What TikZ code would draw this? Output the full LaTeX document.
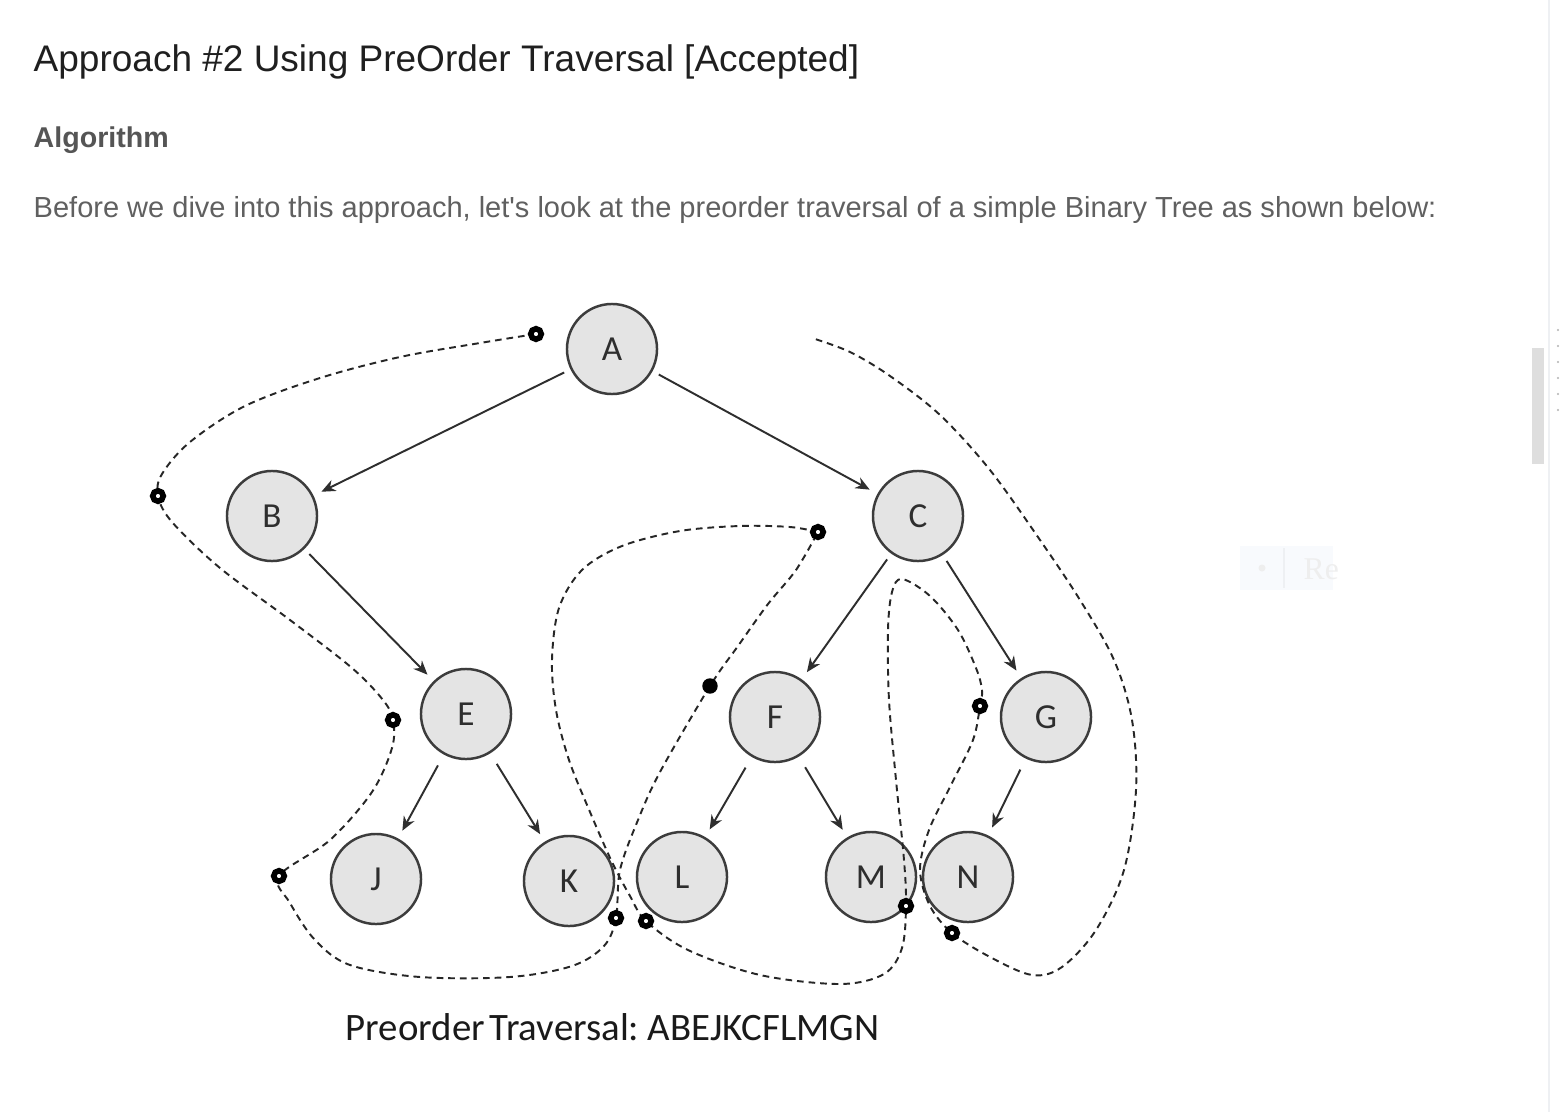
\documentclass[tikz,border=0pt]{standalone}
\usepackage{fontspec}
\setmainfont{Liberation Sans}[Ligatures=TeXOff]
\newfontfamily\calfont{Carlito}
\newfontfamily\faintserif{Liberation Serif}
\usetikzlibrary{arrows.meta}
\definecolor{nodefill}{HTML}{E4E4E4}
\definecolor{nodeline}{HTML}{3C3C3C}
\definecolor{edgecol}{HTML}{2E2E2E}
\definecolor{headcol}{HTML}{1F1F1F}
\definecolor{subcol}{HTML}{555555}
\definecolor{paracol}{HTML}{606060}
\definecolor{capcol}{HTML}{1A1A1A}
\definecolor{barcol}{HTML}{DEDEDE}
\definecolor{faintbox}{HTML}{F8FAFD}
\definecolor{faintline}{HTML}{EEF0F3}
\definecolor{fainttext}{HTML}{EEEEEE}
\begin{document}
\begin{tikzpicture}[x=0.01cm,y=-0.01cm,
  treenode/.style={circle, draw=nodeline, fill=nodefill, line width=0.7pt,
    minimum size=0.9cm, inner sep=0pt, text=edgecol,
    font=\calfont\fontsize{10}{12}\selectfont},
  treeedge/.style={-{Stealth[length=4pt,width=3.4pt]}, line width=0.55pt,
    draw=edgecol, shorten <=2pt, shorten >=2.5pt},
  walk/.style={draw=black!85, line width=0.55pt, dash pattern=on 1.9pt off 1.4pt},
  ring/.style={circle, draw=black, fill=white, line width=1.6pt,
    minimum size=3pt, inner sep=0pt},
  dot/.style={circle, fill=black, minimum size=4.4pt, inner sep=0pt},
  textline/.style={anchor=base west, inner sep=0pt}
]
\useasboundingbox[fill=white] (0,0) rectangle (1560,1112);

% header texts
\node[textline, text=headcol] (title) at (33,71)
  {\resizebox{8.25cm}{!}{Approach \#2 Using PreOrder Traversal [Accepted]}};
\node[textline, text=subcol] (algo) at (33,147)
  {\resizebox{1.35cm}{!}{\bfseries Algorithm}};
\node[textline, text=paracol] (para) at (33,217)
  {\resizebox{14.02cm}{!}{Before we dive into this approach, let's look at the preorder traversal of a simple Binary Tree as shown below:}};

% scrollbar and faint widget
\draw[draw=faintline, line width=0.5pt] (1549,0) -- (1549,1112);
\fill[barcol] (1532,348) rectangle (1544,464);
\foreach \yy in {330,346,362,378,394,410}
  \fill[gray!60] (1558,\yy) circle (1.2);
\fill[faintbox] (1240,546) rectangle (1333,590);
\draw[faintline, line width=0.4pt] (1284,548) -- (1284,588);
\fill[fainttext] (1262,568) circle (3.5);
\node[anchor=west, inner sep=0pt, text=fainttext, font=\faintserif\fontsize{9}{10}\selectfont] (re) at (1303,569) {Re};

% tree nodes
\node[treenode] (A) at (612,349) {A};
\node[treenode] (B) at (272,516) {B};
\node[treenode] (C) at (918,516) {C};
\node[treenode] (E) at (466,714) {E};
\node[treenode] (F) at (775,717) {F};
\node[treenode] (G) at (1046,717) {G};
\node[treenode] (J) at (376,879) {J};
\node[treenode] (K) at (569,881) {K};
\node[treenode] (L) at (682,877) {L};
\node[treenode] (M) at (871,877) {M};
\node[treenode] (N) at (968,877) {N};

% tree edges
\draw[treeedge] (A) -- (B);
\draw[treeedge] (A) -- (C);
\draw[treeedge] (B) -- (E);
\draw[treeedge] (C) -- (F);
\draw[treeedge] (C) -- (G);
\draw[treeedge, shorten <=3.5pt] (E) -- (J);
\draw[treeedge, shorten <=3.5pt] (E) -- (K);
\draw[treeedge, shorten <=3.5pt] (F) -- (L);
\draw[treeedge, shorten <=3.5pt] (F) -- (M);
\draw[treeedge, shorten <=3.5pt] (G) -- (N);

% traversal path markers
\coordinate (m1) at (536,334);
\coordinate (m2) at (158,496);
\coordinate (m3) at (393,720);
\coordinate (m4) at (279,876);
\coordinate (m5) at (616,918);
\coordinate (m6) at (710,686);
\coordinate (m7) at (818,532);
\coordinate (m8) at (646,921);
\coordinate (m9) at (906,906);
\coordinate (m10) at (980,706);
\coordinate (m11) at (952,933);
\coordinate (pend) at (812,338);

% dashed traversal walk
\draw[walk] plot[smooth, tension=0.55] coordinates {
  (m1) (480,343) (400,357) (320,378) (245,406) (190,442) (162,474) (m2)
  (172,522) (220,568) (290,620) (352,668) (383,700) (m3)
  (392,748) (372,792) (330,840) (m4)
  (290,903) (315,940) (350,965) (420,977) (510,977) (572,966) (604,946) (m5)
  (620,870) (638,820) (660,772) (m6)
  (738,646) (768,604) (796,570) (m7)};
\draw[walk] plot[smooth, tension=0.55] coordinates {
  (m7) (790,527) (740,526) (680,531) (622,546) (582,570) (559,608) (552,660) (556,710)
  (569,760) (590,812) (612,862) (630,896) (m8)
  (688,950) (760,975) (840,984) (884,974) (902,948) (m9)
  (904,860) (896,780) (889,700) (888,630) (892,592) (902,579)
  (930,596) (958,630) (976,668) (982,690) (m10)
  (973,740) (951,785) (929,830) (920,870) (930,906) (m11)
  (990,957) (1032,975) (1062,967) (1096,930) (1124,870) (1136,790) (1132,720)
  (1114,660) (1080,600) (1040,540) (990,470) (940,415) (890,376) (850,352) (pend)};

% markers drawn on top
\foreach \m in {m1,m2,m3,m4,m5,m7,m8,m9,m10,m11}
  \node[ring] (r\m) at (\m) {};
\node[dot] (rm6) at (m6) {};

% caption
\node[textline, text=capcol] (cap) at (345,1040)
  {\resizebox{5.33cm}{!}{\calfont Preorder\hspace{0.12em}Traversal:\hspace{0.22em}ABEJKCFLMGN}};
\end{tikzpicture}
\end{document}
